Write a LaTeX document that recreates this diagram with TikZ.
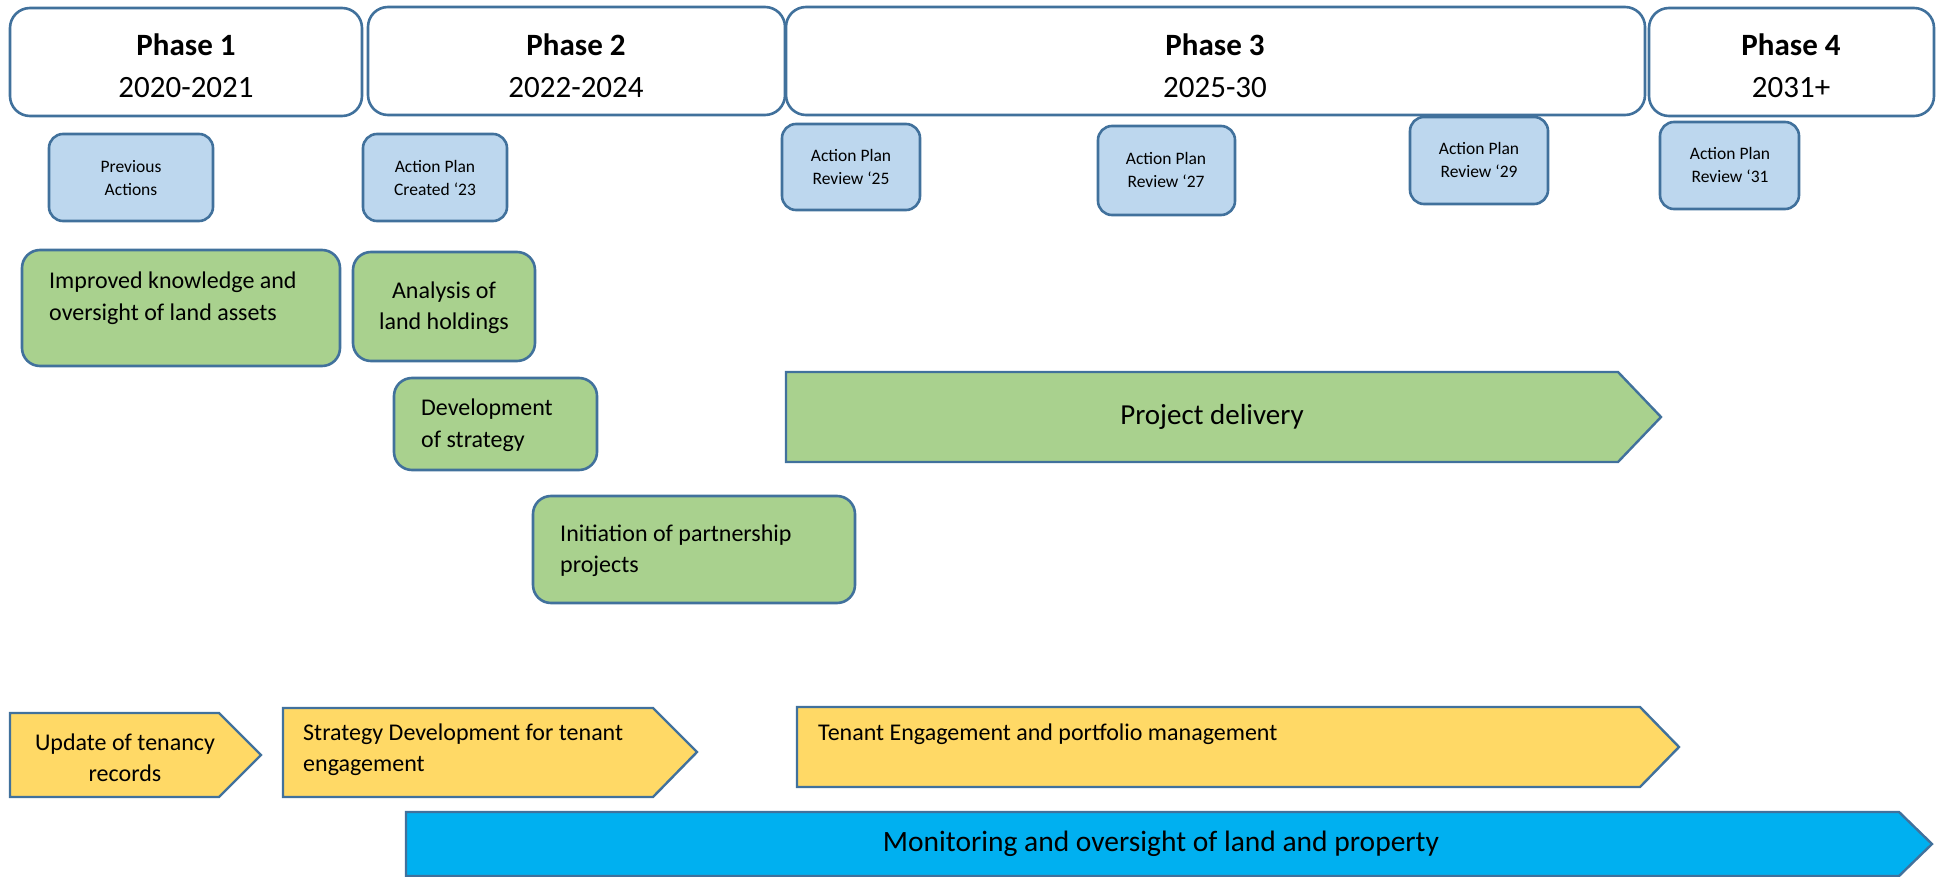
\documentclass[tikz,border=0pt]{standalone}
\usepackage{fontspec}
\setmainfont{Carlito}
\definecolor{edge}{HTML}{41719C}
\definecolor{lblue}{HTML}{BDD7EE}
\definecolor{lgreen}{HTML}{A9D18E}
\definecolor{lyellow}{HTML}{FFD966}
\definecolor{cyanblue}{HTML}{00B0F0}
\tikzset{
  phasebox/.style={draw=edge, line width=2.6pt, fill=white, rounded corners=20pt},
  smallbox/.style={draw=edge, line width=2.6pt, fill=lblue, rounded corners=14pt},
  greenbox/.style={draw=edge, line width=2.6pt, fill=lgreen, rounded corners=18pt},
  arrowshape/.style={draw=edge, line width=2.4pt, line join=miter},
  phasetext/.style={align=center, inner sep=0pt, font=\fontsize{31}{42}\selectfont},
  smalltext/.style={align=center, inner sep=0pt, font=\fontsize{17.5}{23}\selectfont},
  greentext/.style={inner sep=0pt, font=\fontsize{24}{31.5}\selectfont},
  yellowtext/.style={inner sep=0pt, font=\fontsize{24}{31}\selectfont},
}
\begin{document}
\begin{tikzpicture}[x=1pt,y=-1pt]
\useasboundingbox (0,0) rectangle (1937,877);
% phases
\draw[phasebox] (10,8) rectangle (362,116);
\node[phasetext] (p1) at (186,66) {\textbf{Phase 1}\\2020-2021};
\draw[phasebox] (368,7) rectangle (785,115);
\node[phasetext] (p2) at (576,66) {\textbf{Phase 2}\\2022-2024};
\draw[phasebox] (786,7) rectangle (1645,115);
\node[phasetext] (p3) at (1215,66) {\textbf{Phase 3}\\2025-30};
\draw[phasebox] (1649,8) rectangle (1934,116);
\node[phasetext] (p4) at (1791,66) {\textbf{Phase 4}\\2031+};
% small boxes
\draw[smallbox] (49,134) rectangle (213,221);
\node[smalltext] (prev) at (131,178) {Previous\\Actions};
\draw[smallbox] (363,134) rectangle (507,221);
\node[smalltext] (c23) at (435,178) {Action Plan\\Created ‘23};
\draw[smallbox] (782,124) rectangle (920,210);
\node[smalltext] (r25) at (851,167) {Action Plan\\Review ‘25};
\draw[smallbox] (1098,126) rectangle (1235,215);
\node[smalltext] (r27) at (1166,170) {Action Plan\\Review ‘27};
\draw[smallbox] (1410,117) rectangle (1548,204);
\node[smalltext] (r29) at (1479,160) {Action Plan\\Review ‘29};
\draw[smallbox] (1660,122) rectangle (1799,209);
\node[smalltext] (r31) at (1730,165) {Action Plan\\Review ‘31};
% green boxes
\draw[greenbox] (22,250) rectangle (340,366);
\node[greentext, align=left, anchor=west] (know) at (49,298) {Improved knowledge and\\oversight of land assets};
\draw[greenbox] (353,252) rectangle (535,361);
\node[greentext, align=center] (anal) at (444,307.5) {Analysis of\\land holdings};
\draw[greenbox] (394,378) rectangle (597,470);
\node[greentext, align=left, anchor=west] (dev) at (421,425) {Development\\of strategy};
\draw[greenbox] (533,496) rectangle (855,603);
\node[greentext, align=left, anchor=west] (init) at (560,550.5) {Initiation of partnership\\projects};
% project delivery
\draw[arrowshape, fill=lgreen] (786,372) -- (1618,372) -- (1661,417) -- (1618,462) -- (786,462) -- cycle;
\node[inner sep=0pt, font=\fontsize{29}{35}\selectfont] (proj) at (1212,417) {Project delivery};
% yellow
\draw[arrowshape, fill=lyellow] (10,713) -- (219,713) -- (261,755) -- (219,797) -- (10,797) -- cycle;
\node[yellowtext, align=center] (upd) at (125,758) {Update of tenancy\\records};
\draw[arrowshape, fill=lyellow] (283,708) -- (653,708) -- (697,752) -- (653,797) -- (283,797) -- cycle;
\node[yellowtext, align=left, anchor=west] (strat) at (303,750) {Strategy Development for tenant\\engagement};
\draw[arrowshape, fill=lyellow] (797,707) -- (1640,707) -- (1679,747) -- (1640,787) -- (797,787) -- cycle;
\node[yellowtext, anchor=west] (ten) at (818,734) {Tenant Engagement and portfolio management};
% monitoring
\draw[arrowshape, fill=cyanblue] (406,812) -- (1899,812) -- (1932,844) -- (1899,876) -- (406,876) -- cycle;
\node[inner sep=0pt, font=\fontsize{29.5}{35}\selectfont] (mon) at (1161,844) {Monitoring and oversight of land and property};
\end{tikzpicture}
\end{document}
